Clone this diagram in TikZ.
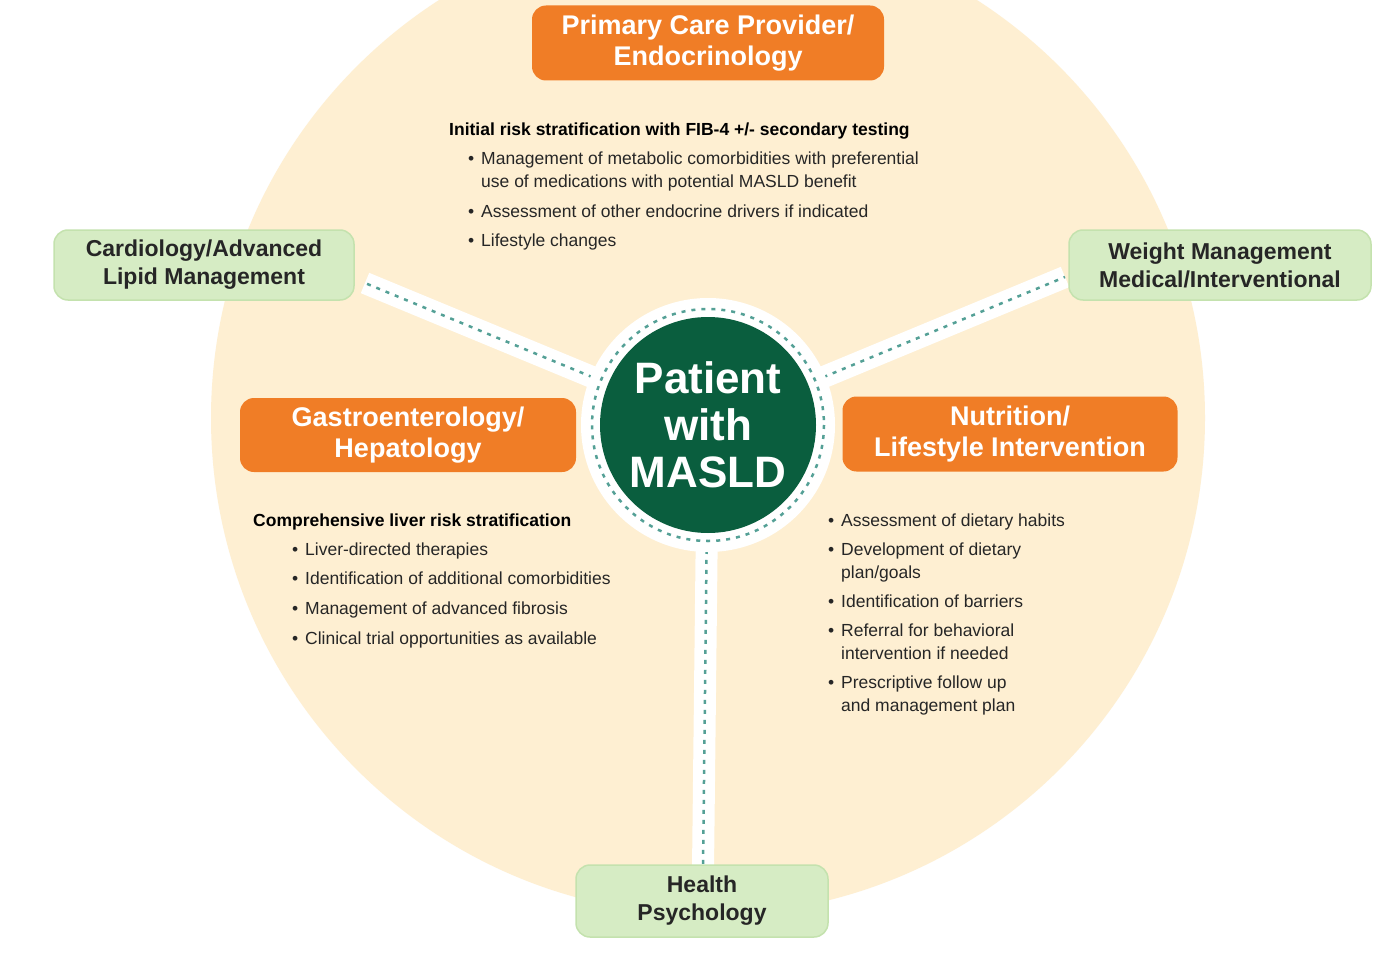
\documentclass[tikz,border=0pt]{standalone}
\usepackage{fontspec}
\setmainfont{Liberation Sans}
\usetikzlibrary{calc}
\begin{document}
\begin{tikzpicture}[x=1pt,y=-1pt,
  bt/.style={anchor=base west,inner sep=0pt,font=\fontsize{17.5}{21}\selectfont,text=black!85},
  hd/.style={bt,font=\fontsize{17.5}{21}\selectfont\bfseries,text=black},
  obox/.style={draw=none,fill=orangeC,rounded corners=14pt,text=white,align=center,font=\fontsize{27}{31}\selectfont\bfseries},
  gbox/.style={draw=greenE,line width=1.5pt,fill=greenC,rounded corners=14pt,text=black!85,align=center,font=\fontsize{23}{28}\selectfont\bfseries},
  band/.style={white,line width=22pt},
  dsh/.style={tealC,line width=2.5pt,dash pattern=on 4pt off 6pt}]
\definecolor{cream}{RGB}{254,239,210}
\definecolor{orangeC}{RGB}{240,125,38}
\definecolor{greenC}{RGB}{214,236,196}
\definecolor{greenE}{RGB}{196,226,174}
\definecolor{darkG}{RGB}{10,94,62}
\definecolor{tealC}{RGB}{84,160,150}
\useasboundingbox (0,0) rectangle (1377,979);
\fill[white] (0,0) rectangle (1377,979);
\begin{scope}
\clip (0,0) rectangle (1377,979);
\fill[cream] (708,418) circle (497);
\end{scope}
% connectors
\coordinate (cL) at (365,283);
\coordinate (cR) at (1065,277);
\coordinate (cB) at (703,870);
\coordinate (c0) at (708,425);
\draw[band] (c0) -- (cL); \draw[band] (c0) -- (cR); \draw[band] (c0) -- (cB);
\draw[dsh] ($(c0)!125pt!(cL)$) -- (cL);
\draw[dsh] ($(c0)!125pt!(cR)$) -- (cR);
\draw[dsh] ($(c0)!125pt!(cB)$) -- (cB);
\fill[white] (c0) circle (127);
\draw[dsh] (c0) circle (116);
\node[circle,fill=darkG,minimum size=216pt,inner sep=0pt,text=white,align=center,font=\fontsize{44}{47}\selectfont\bfseries] (pt) at (c0) {Patient\\with\\MASLD};
% boxes
\node[obox,minimum width=352pt,minimum height=75pt] (pcp) at (708,43) {Primary Care Provider/\\Endocrinology};
\node[obox,minimum width=336pt,minimum height=74pt] (gi) at (408,435) {Gastroenterology/\\Hepatology};
\node[obox,minimum width=335pt,minimum height=75pt] (nu) at (1010,434) {Nutrition/\\Lifestyle Intervention};
\node[gbox,minimum width=300pt,minimum height=70pt] (card) at (204,265) {Cardiology/Advanced\\Lipid Management};
\node[gbox,minimum width=302pt,minimum height=70pt] (wm) at (1220,265) {Weight Management\\Medical/Interventional};
\node[gbox,minimum width=252pt,minimum height=72pt] (hp) at (702,901) {Health\\Psychology};
% PCP text
\node[hd] (p0) at (449,136) {Initial risk stratification with FIB-4 +/- secondary testing};
\node[bt] (p1b) at (468,165) {•}; \node[bt] (p1) at (481,165) {Management of metabolic comorbidities with preferential};
\node[bt] (p1c) at (481,188) {use of medications with potential MASLD benefit};
\node[bt] (p2b) at (468,217) {•}; \node[bt] (p2) at (481,217) {Assessment of other endocrine drivers if indicated};
\node[bt] (p3b) at (468,247) {•}; \node[bt] (p3) at (481,247) {Lifestyle changes};
% GI text
\node[hd] (g0) at (253,526) {Comprehensive liver risk stratification};
\node[bt] (g1b) at (292,555) {•}; \node[bt] (g1) at (305,555) {Liver-directed therapies};
\node[bt] (g2b) at (292,584) {•}; \node[bt] (g2) at (305,584) {Identification of additional comorbidities};
\node[bt] (g3b) at (292,614) {•}; \node[bt] (g3) at (305,614) {Management of advanced fibrosis};
\node[bt] (g4b) at (292,644) {•}; \node[bt] (g4) at (305,644) {Clinical trial opportunities as available};
% Nutrition text
\node[bt] (n1b) at (828,526) {•}; \node[bt] (n1) at (841,526) {Assessment of dietary habits};
\node[bt] (n2b) at (828,555) {•}; \node[bt] (n2) at (841,555) {Development of dietary};
\node[bt] (n2c) at (841,578) {plan/goals};
\node[bt] (n3b) at (828,607) {•}; \node[bt] (n3) at (841,607) {Identification of barriers};
\node[bt] (n4b) at (828,636) {•}; \node[bt] (n4) at (841,636) {Referral for behavioral};
\node[bt] (n4c) at (841,659) {intervention if needed};
\node[bt] (n5b) at (828,688) {•}; \node[bt] (n5) at (841,688) {Prescriptive follow up};
\node[bt] (n5c) at (841,711) {and management plan};
\end{tikzpicture}
\end{document}
